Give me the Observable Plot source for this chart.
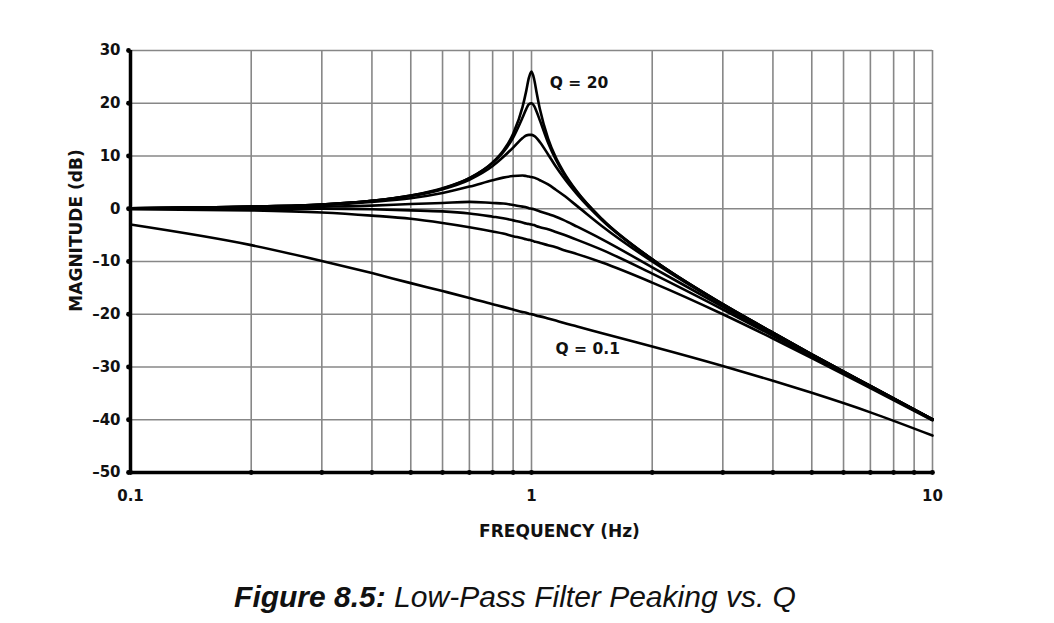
<!DOCTYPE html>
<html>
<head>
<meta charset="utf-8">
<script src="https://cdn.jsdelivr.net/npm/d3@7"></script>
<script src="https://cdn.jsdelivr.net/npm/@observablehq/plot@0.6"></script>
<style>
  html, body { margin: 0; padding: 0; background: #fff; overflow: hidden; }
  #wrap { position: relative; width: 1054px; height: 623px; }
  #caption { position: absolute; left: 0; width: 1030px; top: 580px; text-align: center;
    font-family: "Liberation Sans", Arial, sans-serif; font-style: italic; font-size: 30px; line-height: 34px; color: #111; }
</style>
</head>
<body>
<div id="wrap">
  <div id="chart"></div>
  <div id="caption"><b>Figure 8.5:</b> Low-Pass Filter Peaking vs. Q</div>
</div>
<script>
// Frequency sample points (Hz)
const freq = [0.1,0.2,0.3,0.4,0.5,0.6,0.7,0.8,0.85,0.9,0.95,0.97,0.985,1,1.015,1.03,1.05,1.1,1.15,1.2,1.3,1.5,2,3,4,5,7,10];
// Magnitude (dB) per Q
const q20   = [0.1,0.4,0.8,1.5,2.5,3.9,5.8,8.8,11.0,14.2,19.3,22.3,24.8,26.0,24.6,22.0,18.8,13.3,9.7,7.1,3.2,-2.0,-9.6,-18.1,-23.5,-27.6,-33.6,-39.9];
const q10   = [0.1,0.4,0.8,1.5,2.5,3.8,5.8,8.7,10.7,13.5,17.3,18.9,19.8,20.0,19.5,18.4,16.7,12.5,9.3,6.8,3.1,-2.0,-9.6,-18.1,-23.5,-27.6,-33.6,-39.9];
const q5    = [0.1,0.4,0.8,1.5,2.4,3.7,5.5,8.1,9.8,11.6,13.4,13.9,14.0,14.0,13.8,13.4,12.6,10.3,8.0,6.0,2.7,-2.2,-9.6,-18.1,-23.5,-27.6,-33.6,-39.9];
const q2    = [0.1,0.3,0.7,1.3,2.0,3.0,4.2,5.4,5.9,6.2,6.3,6.2,6.1,6.0,5.9,5.7,5.4,4.6,3.6,2.6,0.5,-3.3,-10.0,-18.2,-23.6,-27.7,-33.7,-39.9];
const q1    = [0.0,0.2,0.4,0.6,0.9,1.1,1.3,1.1,1.0,0.7,0.4,0.3,0.1,0.0,-0.1,-0.3,-0.5,-1.0,-1.5,-2.1,-3.4,-5.8,-11.1,-18.6,-23.8,-27.8,-33.7,-40.0];
const q0707 = [0.0,0.0,0.0,-0.1,-0.3,-0.5,-0.9,-1.5,-1.8,-2.2,-2.6,-2.8,-2.9,-3.0,-3.1,-3.3,-3.5,-3.9,-4.4,-4.9,-5.9,-7.8,-12.3,-19.1,-24.1,-28.0,-33.8,-40.0];
const q05   = [-0.1,-0.3,-0.7,-1.3,-1.9,-2.7,-3.5,-4.3,-4.7,-5.2,-5.6,-5.8,-5.9,-6.0,-6.2,-6.3,-6.5,-6.9,-7.3,-7.8,-8.6,-10.2,-14.0,-20.0,-24.6,-28.3,-34.0,-40.1];
const q01   = [-3.0,-6.9,-9.9,-12.2,-14.1,-15.6,-16.9,-18.1,-18.6,-19.1,-19.6,-19.7,-19.9,-20.0,-20.1,-20.3,-20.4,-20.8,-21.2,-21.6,-22.3,-23.6,-26.1,-29.8,-32.6,-34.9,-38.6,-43.0];
const qNames = ["20","10","5","2","1","0.707","0.5","0.1"];
const qSeries = [q20,q10,q5,q2,q1,q0707,q05,q01];

// Axis ticks
const gridFreqs = [0.1,0.2,0.3,0.4,0.5,0.6,0.7,0.8,0.9,1,2,3,4,5,6,7,8,9,10];
const xTickLabels = [0.1,1,10];
const yTicks = [30,20,10,0,-10,-20,-30,-40,-50];

// Annotations
const qLabels = [
  {label:"Q = 20", f:1.11, db:22.8},
  {label:"Q = 0.1", f:1.148, db:-27.6}
];

const rows = [];
qSeries.forEach((s, i) => s.forEach((v, j) => rows.push({q: qNames[i], f: freq[j], db: v})));

const xMin = xTickLabels[0];
const yMin = yTicks[yTicks.length - 1];
const fmtY = d => String(d).replace("-", "\u2013");

const font = "'DejaVu Sans', 'Liberation Sans', Arial, sans-serif";
const chart = Plot.plot({
  width: 1054,
  height: 560,
  marginLeft: 130,
  marginRight: 122,
  marginTop: 50,
  marginBottom: 88,
  style: {fontFamily: font, color: "#111", background: "#fff"},
  x: {type: "log", domain: [0.1, 10], axis: null},
  y: {domain: [-50, 30], axis: null},
  marks: [
    Plot.gridX(gridFreqs, {stroke: "#878787", strokeOpacity: 1, strokeWidth: 1.6}),
    Plot.gridY(yTicks, {stroke: "#878787", strokeOpacity: 1, strokeWidth: 1.6}),
    Plot.line(rows, {x: "f", y: "db", z: "q", stroke: "#000", strokeWidth: 2.6, curve: "monotone-x"}),
    Plot.ruleX([xMin], {stroke: "#000", strokeWidth: 3.5}),
    Plot.ruleY([yMin], {stroke: "#000", strokeWidth: 3.5}),
    Plot.dot(gridFreqs, {x: d => d, y: () => yMin, r: 2.4, fill: "#000"}),
    Plot.dot(yTicks, {x: () => xMin, y: d => d, r: 2.4, fill: "#000", dx: -2}),
    Plot.text(yTicks, {x: () => xMin, y: d => d, text: fmtY, textAnchor: "end", dx: -10, fontSize: 15, fontWeight: "bold", fill: "#111"}),
    Plot.text(xTickLabels, {x: d => d, y: () => yMin, text: d => String(d), textAnchor: "middle", lineAnchor: "top", dy: 18, fontSize: 15, fontWeight: "bold", fill: "#111"}),
    Plot.text(["MAGNITUDE (dB)"], {text: d => d, frameAnchor: "left", textAnchor: "middle", lineAnchor: "middle", rotate: -90, dx: -54, dy: -31, fontSize: 17, fontWeight: "bold"}),
    Plot.text(["FREQUENCY (Hz)"], {text: d => d, frameAnchor: "bottom", textAnchor: "middle", lineAnchor: "middle", dx: 28, dy: 59, fontSize: 17, fontWeight: "bold"}),
    Plot.text(qLabels, {x: "f", y: "db", text: "label", textAnchor: "start", lineAnchor: "bottom", fontSize: 15.5, fontWeight: "bold"})
  ]
});
document.getElementById("chart").appendChild(chart);
</script>
</body>
</html>
